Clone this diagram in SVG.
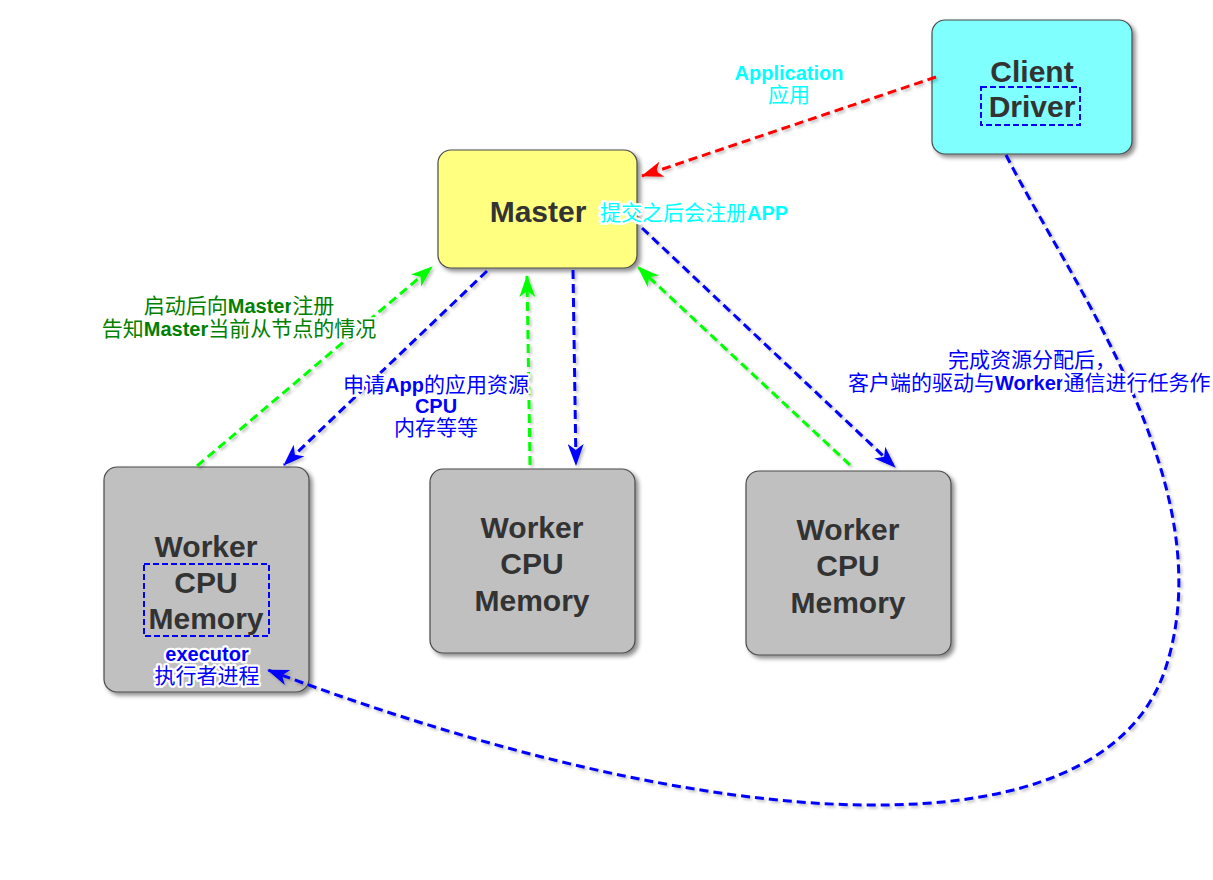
<svg xmlns="http://www.w3.org/2000/svg" width="1213" height="880" viewBox="0 0 1213 880">
<style>
.box{stroke:#4a4a4a;stroke-width:1.2}
.nt{font-family:"Liberation Sans","Noto Sans CJK SC",sans-serif;font-weight:bold;font-size:30px;fill:#333;text-anchor:middle}
.lb{font-family:"Liberation Sans","Noto Sans CJK SC",sans-serif;font-size:21px;text-anchor:middle;stroke:#fff;stroke-width:4.5px;stroke-linejoin:round;paint-order:stroke}
.b{font-weight:bold;font-size:20px}
.cy{fill:#00ffff}
.gr{fill:#008000}
.bl{fill:#0000ff}
.ln{fill:none;stroke-width:3;stroke-dasharray:9,5}
.dbox{fill:none;stroke:#0000ff;stroke-width:2;stroke-dasharray:6,3}
</style>
<defs>
<filter id="sh" x="-10%" y="-10%" width="130%" height="130%">
<feDropShadow dx="3" dy="3" stdDeviation="2" flood-color="#000" flood-opacity="0.45"/>
</filter>
<filter id="lsh" x="-10%" y="-10%" width="130%" height="130%">
<feDropShadow dx="2" dy="2" stdDeviation="1.5" flood-color="#000" flood-opacity="0.25"/>
</filter>
<marker id="ar" viewBox="0 0 22 16" refX="21" refY="8" markerWidth="22" markerHeight="16" markerUnits="userSpaceOnUse" orient="auto"><path d="M0,0 L22,8 L0,16 L6,8 z" fill="#ff0000"/></marker>
<marker id="ag" viewBox="0 0 22 16" refX="21" refY="8" markerWidth="22" markerHeight="16" markerUnits="userSpaceOnUse" orient="auto"><path d="M0,0 L22,8 L0,16 L6,8 z" fill="#00ff00"/></marker>
<marker id="ab" viewBox="0 0 22 16" refX="21" refY="8" markerWidth="22" markerHeight="16" markerUnits="userSpaceOnUse" orient="auto"><path d="M0,0 L22,8 L0,16 L6,8 z" fill="#0000ff"/></marker>
</defs>
<rect width="1213" height="880" fill="#fff"/>

<g id="client">
<rect class="box" x="932" y="20" width="200" height="134" rx="13" fill="#80ffff" filter="url(#sh)"/>
<text class="nt" x="1032" y="82">Client</text>
<rect class="dbox" x="981" y="87" width="99" height="38"/>
<text class="nt" x="1032" y="117">Driver</text>
</g>

<g id="master">
<rect class="box" x="438" y="150" width="199" height="118" rx="13" fill="#ffff80" filter="url(#sh)"/>
<text class="nt" x="538" y="222">Master</text>
</g>

<g id="worker1">
<rect class="box" x="104" y="467" width="205" height="225" rx="13" fill="#c0c0c0" filter="url(#sh)"/>
<text class="nt" x="206" y="557">Worker</text>
<rect class="dbox" x="144" y="564" width="125" height="72"/>
<text class="nt" x="206" y="593">CPU</text>
<text class="nt" x="206" y="629">Memory</text>
</g>

<g id="worker2">
<rect class="box" x="430" y="469" width="205" height="184" rx="13" fill="#c0c0c0" filter="url(#sh)"/>
<text class="nt" x="532" y="538">Worker</text>
<text class="nt" x="532" y="574">CPU</text>
<text class="nt" x="532" y="611">Memory</text>
</g>

<g id="worker3">
<rect class="box" x="746" y="471" width="205" height="184" rx="13" fill="#c0c0c0" filter="url(#sh)"/>
<text class="nt" x="848" y="540">Worker</text>
<text class="nt" x="848" y="576">CPU</text>
<text class="nt" x="848" y="613">Memory</text>
</g>

<g id="connectors" filter="url(#lsh)">
<path class="ln" stroke="#ff0000" d="M936,77 L642,176" marker-end="url(#ar)"/>
<path class="ln" stroke="#00ff00" d="M197,466 L432,267" marker-end="url(#ag)"/>
<path class="ln" stroke="#0000ff" d="M487,271 L284,465" marker-end="url(#ab)"/>
<path class="ln" stroke="#00ff00" d="M530,465 L527,276" marker-end="url(#ag)"/>
<path class="ln" stroke="#0000ff" d="M573,270 L576,465" marker-end="url(#ab)"/>
<path class="ln" stroke="#00ff00" d="M850,465 L638,267" marker-end="url(#ag)"/>
<path class="ln" stroke="#0000ff" d="M642,228 L895,467" marker-end="url(#ab)"/>
<path class="ln" stroke="#0000ff" d="M1006,155 C1075,290 1225,490 1165,670 C1100,860 720,840 268,670" marker-end="url(#ab)"/>
</g>

<g id="labels">
<text class="lb cy" x="789" y="80"><tspan class="b">Application</tspan></text>
<text class="lb cy" x="789" y="102">应用</text>
<text class="lb cy" x="600" y="220" style="text-anchor:start">提交之后会注册<tspan class="b">APP</tspan></text>
<text class="lb gr" x="239" y="313">启动后向<tspan class="b">Master</tspan>注册</text>
<text class="lb gr" x="239" y="336">告知<tspan class="b">Master</tspan>当前从节点的情况</text>
<text class="lb bl" x="436" y="392">申请<tspan class="b">App</tspan>的应用资源</text>
<text class="lb bl" x="436" y="413"><tspan class="b">CPU</tspan></text>
<text class="lb bl" x="436" y="435">内存等等</text>
<text class="lb bl" x="1032" y="367">完成资源分配后，</text>
<text class="lb bl" x="848" y="390" style="text-anchor:start">客户端的驱动与<tspan class="b">Worker</tspan>通信进行任务作</text>
<text class="lb bl" x="207" y="661"><tspan class="b">executor</tspan></text>
<text class="lb bl" x="207" y="683">执行者进程</text>
</g>
</svg>
